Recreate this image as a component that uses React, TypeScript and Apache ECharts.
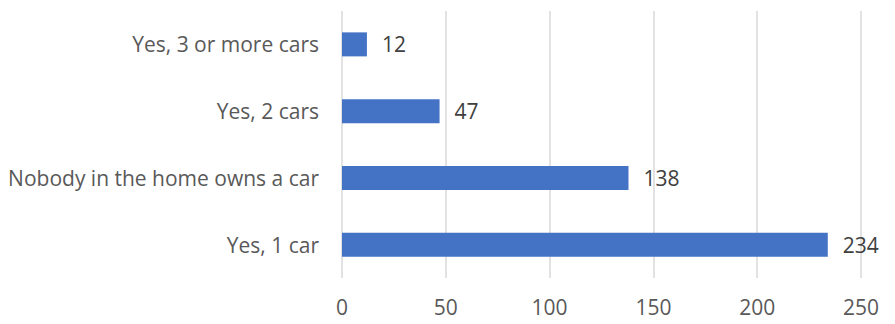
import React, { useEffect, useRef } from "react";
import * as echarts from "echarts";

const categories = ["Yes, 1 car", "Nobody in the home owns a car", "Yes, 2 cars", "Yes, 3 or more cars"];
const values = [234, 138, 47, 12];
const xTicks = { min: 0, max: 250, interval: 50 };

const FONT = "Open Sans";

export default function App() {
  const ref = useRef<HTMLDivElement>(null);
  useEffect(() => {
    const chart = echarts.init(ref.current!, null, { renderer: "svg" });
    chart.setOption({
      animation: false,
      backgroundColor: "#ffffff",
      grid: { left: 342, right: 34, top: 11, bottom: 46, containLabel: false },
      xAxis: {
        type: "value",
        min: xTicks.min,
        max: xTicks.max,
        interval: xTicks.interval,
        axisLine: { show: false },
        axisTick: { show: false },
        splitLine: { show: true, lineStyle: { color: "#d9d9d9", width: 1.5 } },
        axisLabel: { color: "#595959", fontFamily: FONT, fontSize: 21, margin: 18 },
      },
      yAxis: {
        type: "category",
        data: categories,
        axisLine: { show: false },
        axisTick: { show: false },
        axisLabel: { color: "#595959", fontFamily: FONT, fontSize: 21, margin: 23 },
      },
      series: [
        {
          type: "bar",
          data: values,
          barWidth: 24,
          itemStyle: { color: "#4472C4" },
          label: {
            show: true,
            position: "right",
            distance: 15,
            color: "#404040",
            fontFamily: FONT,
            fontSize: 21,
          },
        },
      ],
    });
    return () => chart.dispose();
  }, []);
  return <div ref={ref} style={{ position: "fixed", left: 0, top: 0, width: 895, height: 324 }} />;
}
